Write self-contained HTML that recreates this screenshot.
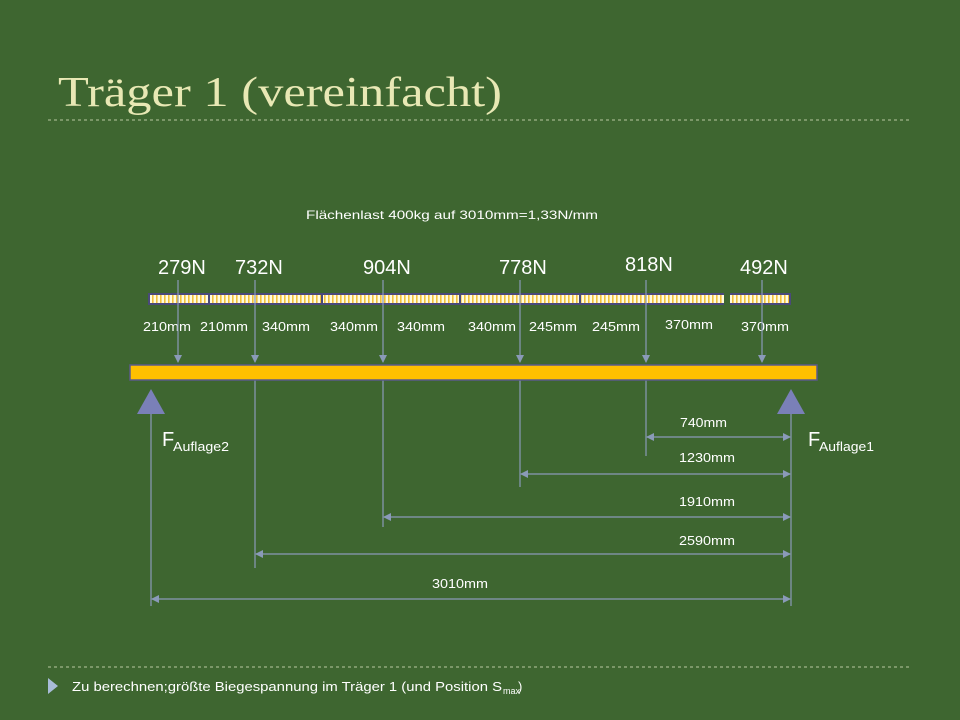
<!DOCTYPE html>
<html><head><meta charset="utf-8"><style>
html,body{margin:0;padding:0;background:#3e6630;}
svg{display:block}
text{font-family:"Liberation Sans",sans-serif;}
</style></head><body>
<svg width="960" height="720" viewBox="0 0 960 720" xmlns="http://www.w3.org/2000/svg">
<defs>
<pattern id="st" width="4" height="10" patternUnits="userSpaceOnUse"><rect width="4" height="10" fill="#fffbe0"/><rect width="1.6" height="10" fill="#f2c23a"/></pattern>
<marker id="ah" markerWidth="8" markerHeight="8" refX="7" refY="4" orient="auto-start-reverse" markerUnits="userSpaceOnUse"><path d="M0,0 L8,4 L0,8 z" fill="#8a9ab8"/></marker>
</defs>
<rect width="960" height="720" fill="#3e6630"/>
<text x="58" y="106" style="font-family:'Liberation Serif',serif" font-size="42" fill="#e8e8b4" textLength="444" lengthAdjust="spacingAndGlyphs">Träger 1 (vereinfacht)</text>
<line x1="48" y1="120" x2="912" y2="120" stroke="#b8c8a0" stroke-dasharray="3,3" stroke-width="1"/>
<line x1="48" y1="667" x2="912" y2="667" stroke="#b8c8a0" stroke-dasharray="3,3" stroke-width="1"/>
<path d="M48,678 L58,686 L48,694 z" fill="#a8bcd8"/>
<text x="72" y="691" font-size="13" fill="#ffffff" textLength="430" lengthAdjust="spacingAndGlyphs">Zu berechnen;größte Biegespannung im Träger 1 (und Position S</text>
<text x="503" y="694" font-size="9" fill="#fff">max</text><text x="518" y="691" font-size="13" fill="#fff">)</text>

<text x="306" y="219" font-size="12" fill="#fff" textLength="292" lengthAdjust="spacingAndGlyphs">Flächenlast 400kg auf 3010mm=1,33N/mm</text>

<g font-size="20" fill="#fff">
<text x="158" y="274">279N</text><text x="235" y="274">732N</text><text x="363" y="274">904N</text>
<text x="499" y="274">778N</text><text x="625" y="271">818N</text><text x="740" y="274">492N</text>
</g>

<rect x="148" y="293" width="643" height="12" fill="#4a4a7a"/>
<rect x="150" y="295" width="58" height="8" fill="url(#st)"/>
<rect x="210" y="295" width="111" height="8" fill="url(#st)"/>
<rect x="323" y="295" width="136" height="8" fill="url(#st)"/>
<rect x="461" y="295" width="118" height="8" fill="url(#st)"/>
<rect x="581" y="295" width="143" height="8" fill="url(#st)"/>
<rect x="724" y="293" width="6" height="12" fill="#3e6630"/>
<rect x="730" y="295" width="59" height="8" fill="url(#st)"/>

<g font-size="13" fill="#fff">
<text x="143" y="331" textLength="48" lengthAdjust="spacingAndGlyphs">210mm</text>
<text x="200" y="331" textLength="48" lengthAdjust="spacingAndGlyphs">210mm</text>
<text x="262" y="331" textLength="48" lengthAdjust="spacingAndGlyphs">340mm</text>
<text x="330" y="331" textLength="48" lengthAdjust="spacingAndGlyphs">340mm</text>
<text x="397" y="331" textLength="48" lengthAdjust="spacingAndGlyphs">340mm</text>
<text x="468" y="331" textLength="48" lengthAdjust="spacingAndGlyphs">340mm</text>
<text x="529" y="331" textLength="48" lengthAdjust="spacingAndGlyphs">245mm</text>
<text x="592" y="331" textLength="48" lengthAdjust="spacingAndGlyphs">245mm</text>
<text x="665" y="329" textLength="48" lengthAdjust="spacingAndGlyphs">370mm</text>
<text x="741" y="331" textLength="48" lengthAdjust="spacingAndGlyphs">370mm</text>
</g>

<g stroke="#8a9ab8" stroke-width="1.2" fill="none">
<line x1="178" y1="280" x2="178" y2="362" marker-end="url(#ah)"/>
<line x1="255" y1="280" x2="255" y2="362" marker-end="url(#ah)"/>
<line x1="383" y1="280" x2="383" y2="362" marker-end="url(#ah)"/>
<line x1="520" y1="280" x2="520" y2="362" marker-end="url(#ah)"/>
<line x1="646" y1="280" x2="646" y2="362" marker-end="url(#ah)"/>
<line x1="762" y1="280" x2="762" y2="362" marker-end="url(#ah)"/>
<line x1="255" y1="380" x2="255" y2="568"/>
<line x1="383" y1="380" x2="383" y2="527"/>
<line x1="520" y1="380" x2="520" y2="487"/>
<line x1="646" y1="380" x2="646" y2="456"/>
<line x1="151" y1="410" x2="151" y2="606"/>
<line x1="791" y1="410" x2="791" y2="606"/>
<line x1="647" y1="437" x2="790" y2="437" marker-start="url(#ah)" marker-end="url(#ah)"/>
<line x1="521" y1="474" x2="790" y2="474" marker-start="url(#ah)" marker-end="url(#ah)"/>
<line x1="384" y1="517" x2="790" y2="517" marker-start="url(#ah)" marker-end="url(#ah)"/>
<line x1="256" y1="554" x2="790" y2="554" marker-start="url(#ah)" marker-end="url(#ah)"/>
<line x1="152" y1="599" x2="790" y2="599" marker-start="url(#ah)" marker-end="url(#ah)"/>
</g>

<rect x="130" y="365" width="687" height="15" fill="#ffc000" stroke="#5a5a8a" stroke-width="1.5"/>
<path d="M151,389 L137,414 L165,414 z" fill="#7a80b8"/>
<path d="M791,389 L777,414 L805,414 z" fill="#7a80b8"/>

<text x="162" y="446" font-size="20" fill="#fff">F</text><text x="173" y="451" font-size="13" fill="#fff" textLength="56" lengthAdjust="spacingAndGlyphs">Auflage2</text>
<text x="808" y="446" font-size="20" fill="#fff">F</text><text x="819" y="451" font-size="13" fill="#fff" textLength="55" lengthAdjust="spacingAndGlyphs">Auflage1</text>

<g font-size="13" fill="#fff">
<text x="680" y="427" textLength="47" lengthAdjust="spacingAndGlyphs">740mm</text>
<text x="679" y="462" textLength="56" lengthAdjust="spacingAndGlyphs">1230mm</text>
<text x="679" y="506" textLength="56" lengthAdjust="spacingAndGlyphs">1910mm</text>
<text x="679" y="545" textLength="56" lengthAdjust="spacingAndGlyphs">2590mm</text>
<text x="432" y="588" textLength="56" lengthAdjust="spacingAndGlyphs">3010mm</text>
</g>
</svg>
</body></html>
